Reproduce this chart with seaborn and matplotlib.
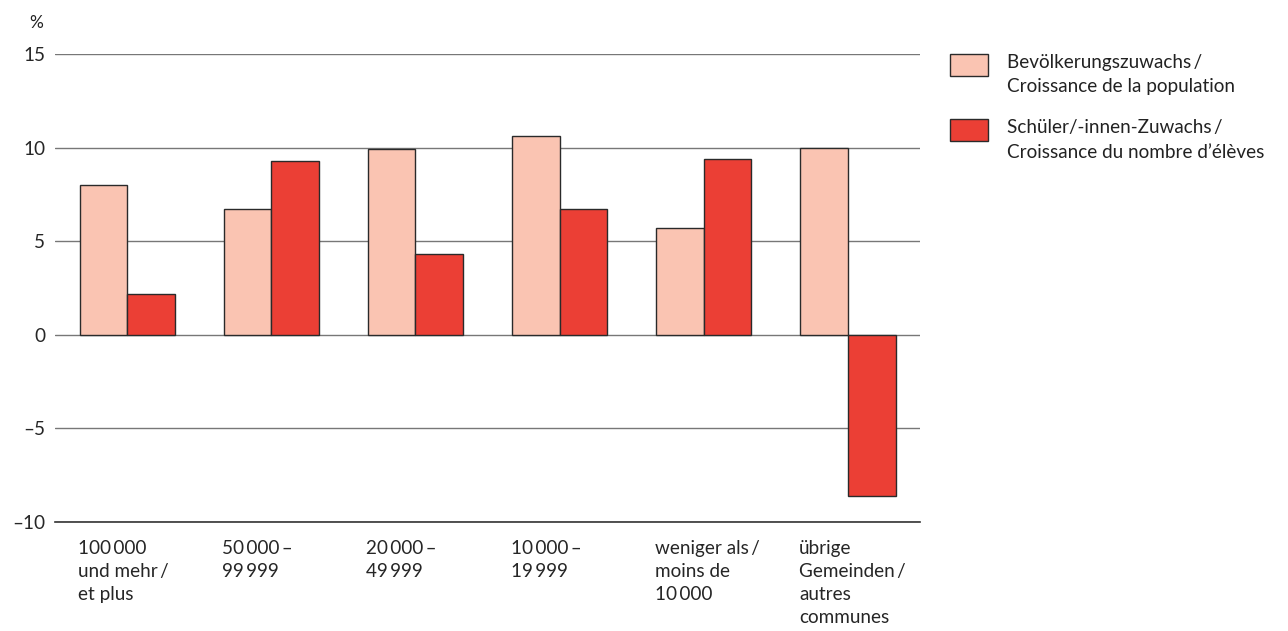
import pandas as pd
import matplotlib
matplotlib.use("Agg")
import matplotlib.pyplot as plt
import seaborn as sns

# --- data ---
groups = ["100000+", "50000-99999", "20000-49999", "10000-19999", "<10000", "other"]
group_labels = [
    "100\u2009000\nund mehr\u2009/\net plus",
    "50\u2009000\u2009–\n99\u2009999",
    "20\u2009000\u2009–\n49\u2009999",
    "10\u2009000\u2009–\n19\u2009999",
    "weniger als\u2009/\nmoins de\n10\u2009000",
    "übrige\nGemeinden\u2009/\nautres\ncommunes",
]
series_names = [
    "Bevölkerungszuwachs\u2009/\nCroissance de la population",
    "Schüler/-innen-Zuwachs\u2009/\nCroissance du nombre d’élèves",
]
pop_growth = [8.0, 6.7, 9.9, 10.6, 5.7, 10.0]
pupil_growth = [2.2, 9.3, 4.3, 6.7, 9.4, -8.6]
y_ticks = [-10, -5, 0, 5, 10, 15]
y_tick_labels = ["–10", "–5", "0", "5", "10", "15"]

colors = {series_names[0]: "#FAC4B2", series_names[1]: "#EB3F35"}

df = pd.DataFrame({
    "group": groups * 2,
    "series": [series_names[0]] * len(groups) + [series_names[1]] * len(groups),
    "value": pop_growth + pupil_growth,
})

sns.set_style("white")
plt.rcParams["font.family"] = ["Lato", "DejaVu Sans"]
plt.rcParams["text.color"] = "#222222"

FS = 13.6

fig = plt.figure(figsize=(12.88, 6.31), dpi=100)
ax = fig.add_axes([0.0427, 0.1727, 0.6716, 0.7417])

sns.barplot(data=df, x="group", y="value", hue="series", order=groups,
            palette=colors, width=0.66, edgecolor="#2a2a2a", linewidth=1.0,
            saturation=1, ax=ax)

ax.set_xlim(-0.5, len(groups) - 0.5)
ax.set_ylim(-10, 15)
ax.set_yticks(y_ticks)
ax.set_yticklabels(y_tick_labels, fontsize=FS)
ax.grid(axis="y", color="#777777", linewidth=1.0)
ax.set_axisbelow(True)
ax.tick_params(axis="y", length=0, pad=7)
ax.tick_params(axis="x", length=0)
for side in ["top", "right", "left"]:
    ax.spines[side].set_visible(False)
ax.spines["bottom"].set_color("#333333")
ax.spines["bottom"].set_linewidth(1.2)
ax.set_xlabel("")
ax.set_ylabel("")

# x labels left-aligned at the start of each group's first bar
ax.set_xticks([i - 0.34 for i in range(len(groups))])
ax.set_xticklabels(group_labels, ha="left", va="top", fontsize=FS,
                   linespacing=1.42)
ax.tick_params(axis="x", pad=13)

ax.text(-0.022, 1.055, "%", transform=ax.transAxes, fontsize=12.5, ha="center")

handles, labels = ax.get_legend_handles_labels()
leg = ax.legend(handles, labels, loc="upper left", bbox_to_anchor=(0.7316, 0.927),
                bbox_transform=fig.transFigure, frameon=False, fontsize=FS,
                handlelength=2.0, handleheight=1.45, handletextpad=1.0,
                labelspacing=1.25, borderaxespad=0)
for t in leg.get_texts():
    t.set_linespacing(1.55)
# align each legend patch with the first line of its label
for col in leg._legend_handle_box.get_children():
    for item in col.get_children():
        item.align = "top"

fig.savefig("out.png", dpi=100)
